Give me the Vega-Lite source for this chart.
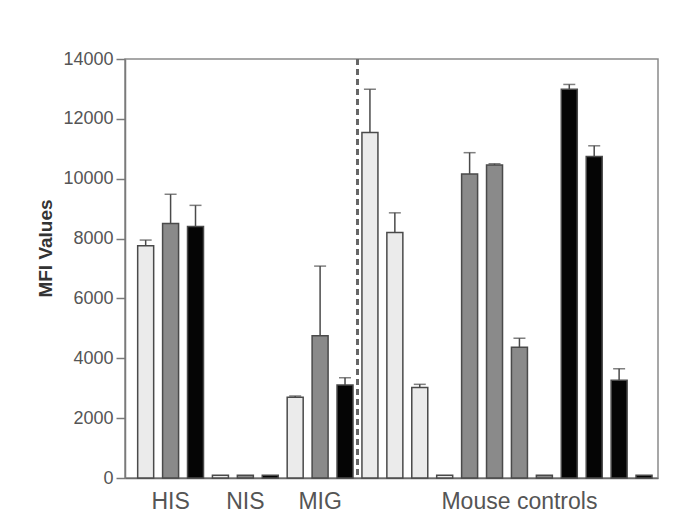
{
  "$schema": "https://vega.github.io/schema/vega-lite/v6.json",
  "autosize": {"type": "none"},
  "padding": {"left": 125, "top": 59, "right": 22, "bottom": 38},
  "width": 533,
  "height": 419,
  "background": "white",
  "config": {
    "font": "Liberation Sans",
    "view": {"stroke": "#8a8a8a", "strokeWidth": 1.5}
  },
  "data": {
    "values": [
      {"id": "HIS-1", "type": "light", "value": 7760, "upper": 7950},
      {"id": "HIS-2", "type": "grey", "value": 8500, "upper": 9480},
      {"id": "HIS-3", "type": "black", "value": 8400, "upper": 9110},
      {"id": "NIS-1", "type": "light", "value": 90, "upper": null},
      {"id": "NIS-2", "type": "grey", "value": 90, "upper": null},
      {"id": "NIS-3", "type": "black", "value": 90, "upper": null},
      {"id": "MIG-1", "type": "light", "value": 2700, "upper": 2740},
      {"id": "MIG-2", "type": "grey", "value": 4750, "upper": 7080},
      {"id": "MIG-3", "type": "black", "value": 3110, "upper": 3350},
      {"id": "MC-1", "type": "light", "value": 11540, "upper": 12990},
      {"id": "MC-2", "type": "light", "value": 8200, "upper": 8860},
      {"id": "MC-3", "type": "light", "value": 3020, "upper": 3130},
      {"id": "MC-4", "type": "light", "value": 90, "upper": null},
      {"id": "MC-5", "type": "grey", "value": 10160, "upper": 10870},
      {"id": "MC-6", "type": "grey", "value": 10460, "upper": 10500},
      {"id": "MC-7", "type": "grey", "value": 4370, "upper": 4670},
      {"id": "MC-8", "type": "grey", "value": 90, "upper": null},
      {"id": "MC-9", "type": "black", "value": 12990, "upper": 13150},
      {"id": "MC-10", "type": "black", "value": 10740, "upper": 11100},
      {"id": "MC-11", "type": "black", "value": 3270, "upper": 3650},
      {"id": "MC-12", "type": "black", "value": 90, "upper": null}
    ]
  },
  "encoding": {
    "x": {
      "field": "id",
      "type": "nominal",
      "sort": null,
      "scale": {"paddingInner": 0.358, "paddingOuter": 0.374, "align": 0.68},
      "axis": {
        "title": null,
        "ticks": false,
        "labelAngle": 0,
        "labelOverlap": false,
        "labelLimit": 0,
        "labelFontSize": 23,
        "labelColor": "#555555",
        "labelPadding": 12,
        "domainColor": "#6a6a6a",
        "domainWidth": 1.5,
        "labelExpr": "datum.value == 'HIS-2' ? 'HIS' : datum.value == 'NIS-2' ? 'NIS' : datum.value == 'MIG-2' ? 'MIG' : datum.value == 'MC-7' ? 'Mouse controls' : ''",
        "encode": {
          "labels": {
            "update": {
              "dx": {"signal": "datum.value == 'MC-7' ? 8 : datum.value == 'HIS-2' ? -2 : datum.value == 'MIG-2' ? -3 : 0"}
            }
          }
        }
      }
    }
  },
  "layer": [
    {
      "mark": {"type": "bar", "stroke": "#4a4a4a", "strokeWidth": 1.5},
      "encoding": {
        "y": {
          "field": "value",
          "type": "quantitative",
          "scale": {"domain": [0, 14000], "nice": false},
          "axis": {
            "title": "MFI Values",
            "titleFontSize": 19,
            "titleFontWeight": "bold",
            "titleColor": "#333333",
            "titleX": -80,
            "titleY": 189,
            "titleAlign": "center",
            "titleBaseline": "middle",
            "titleAngle": 270,
            "values": [0, 2000, 4000, 6000, 8000, 10000, 12000, 14000],
            "format": "d",
            "grid": false,
            "tickSize": 9,
            "tickColor": "#7a7a7a",
            "tickWidth": 1.5,
            "domainColor": "#7a7a7a",
            "domainWidth": 1.5,
            "labelFontSize": 18,
            "labelColor": "#555555",
            "labelPadding": 3
          }
        },
        "fill": {
          "field": "type",
          "type": "nominal",
          "scale": {"domain": ["light", "grey", "black"], "range": ["#ebebeb", "#8a8a8a", "#050505"]},
          "legend": null
        }
      }
    },
    {
      "transform": [{"filter": "datum.upper != null"}],
      "mark": {"type": "rule", "color": "#4a4a4a", "strokeWidth": 1.5},
      "encoding": {
        "y": {"field": "value", "type": "quantitative"},
        "y2": {"field": "upper"}
      }
    },
    {
      "transform": [{"filter": "datum.upper != null"}],
      "mark": {"type": "tick", "color": "#4a4a4a", "thickness": 1.5, "size": 12},
      "encoding": {
        "y": {"field": "upper", "type": "quantitative"}
      }
    },
    {
      "mark": {"type": "rule", "color": "#666666", "strokeWidth": 1.5, "strokeDash": [6, 4]},
      "encoding": {
        "x": {"datum": "MIG-3", "type": "nominal", "bandPosition": 1.28}
      }
    }
  ]
}
